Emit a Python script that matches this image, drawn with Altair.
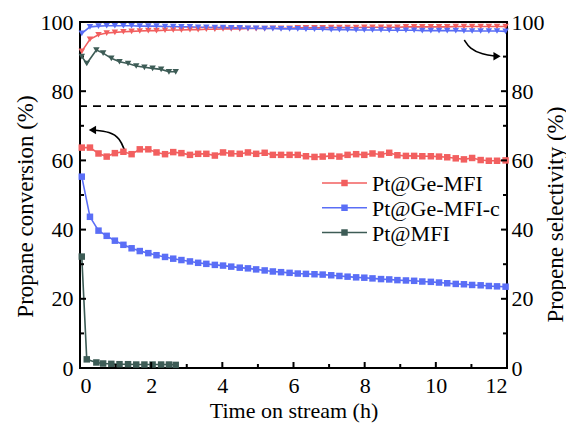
import altair as alt
import pandas as pd

FONT = "Liberation Serif"

# ---------------- data ----------------
series_names = ["Pt@Ge-MFI", "Pt@Ge-MFI-c", "Pt@MFI"]
series_colors = ["#f25f5f", "#5a6ef6", "#3d5c56"]

time_h = [0.05, 0.28, 0.52, 0.75, 0.98, 1.22, 1.45, 1.68, 1.92, 2.15,
          2.39, 2.62, 2.85, 3.09, 3.32, 3.55, 3.79, 4.02, 4.25, 4.49,
          4.72, 4.95, 5.19, 5.42, 5.65, 5.89, 6.12, 6.35, 6.59, 6.82,
          7.06, 7.29, 7.52, 7.76, 7.99, 8.22, 8.46, 8.69, 8.92, 9.16,
          9.39, 9.62, 9.86, 10.09, 10.32, 10.56, 10.79, 11.02, 11.26, 11.49,
          11.72, 11.96]

time_mfi = [0.05, 0.19, 0.46, 0.65, 0.88, 1.11, 1.35, 1.58, 1.81, 2.04,
            2.28, 2.50, 2.69]

# propane conversion (%)
conv_ge = [63.7, 63.7, 62.0, 61.1, 62.1, 62.5, 61.8, 63.2, 63.2, 62.3,
           61.8, 62.4, 62.1, 61.6, 61.9, 61.9, 61.4, 62.3, 62.0, 61.9,
           62.3, 61.9, 62.2, 61.6, 61.6, 61.6, 61.6, 61.2, 61.0, 61.1,
           61.3, 61.1, 61.6, 61.8, 61.6, 62.0, 61.7, 62.2, 61.5, 61.3,
           61.3, 61.2, 61.2, 61.1, 60.9, 60.6, 60.3, 60.7, 60.1, 59.9,
           59.9, 60.0]
conv_gec = [55.3, 43.7, 39.7, 38.2, 36.8, 35.6, 34.6, 33.8, 33.2, 32.6,
            32.1, 31.6, 31.2, 30.8, 30.4, 30.1, 29.8, 29.6, 29.3, 29.0,
            28.8, 28.5, 28.2, 27.9, 27.7, 27.5, 27.3, 27.2, 27.1, 27.0,
            26.8, 26.6, 26.4, 26.2, 26.1, 25.9, 25.7, 25.6, 25.4, 25.3,
            25.2, 25.0, 24.9, 24.7, 24.5, 24.3, 24.2, 24.0, 23.9, 23.7,
            23.6, 23.5]
conv_mfi = [32.2, 2.5, 1.6, 1.3, 1.2, 1.1, 1.1, 1.0, 1.0, 1.0, 1.0, 1.0, 0.9]

# propene selectivity (%)
sel_ge = [91.5, 95.0, 96.3, 96.8, 97.0, 97.2, 97.3, 97.4, 97.5, 97.5,
          97.6, 97.7, 97.7, 97.8, 97.8, 97.9, 97.9, 98.0, 98.0, 98.0,
          98.1, 98.1, 98.1, 98.2, 98.2, 98.2, 98.3, 98.3, 98.3, 98.3,
          98.4, 98.4, 98.4, 98.4, 98.5, 98.5, 98.5, 98.5, 98.5, 98.6,
          98.6, 98.6, 98.6, 98.6, 98.6, 98.7, 98.7, 98.7, 98.7, 98.7,
          98.7, 98.7]
sel_gec = [96.7, 98.6, 98.8, 98.9, 98.9, 98.9, 98.9, 98.8, 98.8, 98.8,
           98.7, 98.7, 98.6, 98.6, 98.5, 98.5, 98.4, 98.4, 98.3, 98.3,
           98.2, 98.2, 98.1, 98.1, 98.0, 98.0, 98.0, 97.9, 97.9, 97.9,
           97.8, 97.8, 97.8, 97.7, 97.7, 97.7, 97.7, 97.6, 97.6, 97.6,
           97.6, 97.5, 97.5, 97.5, 97.5, 97.5, 97.4, 97.4, 97.4, 97.4,
           97.4, 97.3]
sel_mfi = [90.0, 88.0, 91.9, 91.0, 89.5, 88.5, 88.0, 87.3, 86.9, 86.6,
           86.3, 85.6, 85.6]

dash_level = 75.7

x_major = [0, 2, 4, 6, 8, 10, 12]
x_minor = [1, 3, 5, 7, 9, 11]
y_major = [0, 20, 40, 60, 80, 100]
y_minor = [10, 30, 50, 70, 90]

# annotation arrows (time, value)
arrow_left_t = [1.25, 1.12, 0.85, 0.35]
arrow_left_v = [63.0, 66.3, 68.3, 68.8]
arrow_right_t = [10.8, 10.95, 11.3, 11.72]
arrow_right_v = [94.8, 92.3, 90.6, 90.1]

# ---------------- tables ----------------
def long(t, v, name):
    return pd.DataFrame({"t": t, "v": v, "series": name})

conv_df = pd.concat([long(time_h, conv_ge, series_names[0]),
                     long(time_h, conv_gec, series_names[1]),
                     long(time_mfi, conv_mfi, series_names[2])], ignore_index=True)
sel_df = pd.concat([long(time_h, sel_ge, series_names[0]),
                    long(time_h, sel_gec, series_names[1]),
                    long(time_mfi, sel_mfi, series_names[2])], ignore_index=True)

arrows_df = pd.concat([
    pd.DataFrame({"t": arrow_left_t, "v": arrow_left_v, "a": "L", "o": range(4)}),
    pd.DataFrame({"t": arrow_right_t, "v": arrow_right_v, "a": "R", "o": range(4)}),
], ignore_index=True)
heads_df = pd.DataFrame({"t": [arrow_left_t[-1], arrow_right_t[-1]],
                         "v": [arrow_left_v[-1], arrow_right_v[-1]],
                         "shape": ["triangle-left", "triangle-right"]})

xmaj_df = pd.DataFrame({"t": x_major})
xmin_df = pd.DataFrame({"t": x_minor})
ymaj_df = pd.DataFrame({"v": y_major})
ymin_df = pd.DataFrame({"v": y_minor})
legend_df = pd.DataFrame({"series": series_names})

# ---------------- scales / axes ----------------
W, H = 427, 346
cscale = alt.Scale(domain=series_names, range=series_colors)
xscale = alt.Scale(domain=[0, 12], nice=False)
yl_scale = alt.Scale(domain=[0, 100], nice=False)
yr_scale = alt.Scale(domain=[0, 100], nice=False)

x_axis = alt.Axis(title="Time on stream (h)", values=x_major, ticks=False, domain=False,
                  grid=False, labelPadding=7, titlePadding=4, format="d",
                  titleFontSize=22)
yl_axis = alt.Axis(title="Propane conversion (%)", values=y_major, ticks=False,
                   domain=False, grid=False, labelPadding=7, titlePadding=3,
                   orient="left", titleFontSize=23, titleY=184)
yr_axis = alt.Axis(title="Propene selectivity (%)", values=y_major, ticks=False,
                   domain=False, grid=False, labelPadding=4, titlePadding=0,
                   orient="right", titleAngle=270, titleBaseline="top",
                   titleFontSize=23, titleY=192)

X = lambda: alt.X("t:Q", scale=xscale, axis=x_axis)
YL = lambda: alt.Y("v:Q", scale=yl_scale, axis=yl_axis)
YR = lambda: alt.Y("v:Q", scale=yr_scale, axis=yr_axis)
COL = lambda: alt.Color("series:N", scale=cscale, legend=None)

# ---------------- left (conversion) layers ----------------
conv_line = alt.Chart(conv_df).mark_line(strokeWidth=1.6).encode(
    x=X(), y=YL(), color=COL(), detail="series:N")
conv_pts = alt.Chart(conv_df).mark_point(shape="square", filled=True, size=42,
                                         opacity=1).encode(x=X(), y=YL(), color=COL())

dash = alt.Chart(pd.DataFrame({"v": [dash_level]})).mark_rule(
    color="black", strokeWidth=1.6, strokeDash=[8, 6]).encode(y=YL())

arrow_lines = alt.Chart(arrows_df).mark_line(color="black", strokeWidth=1.6,
                                             interpolate="basis").encode(
    x=X(), y=YL(), detail="a:N", order="o:Q")
arrow_heads = alt.Chart(heads_df).mark_point(filled=True, color="black", size=70,
                                             opacity=1).encode(
    x=X(), y=YL(), shape=alt.Shape("shape:N", scale=None, legend=None))

xtick_maj = alt.Chart(xmaj_df).mark_rule(color="black", strokeWidth=2).encode(
    x=X(), y=alt.value(H), y2=alt.value(H - 6))
xtick_min = alt.Chart(xmin_df).mark_rule(color="black", strokeWidth=2).encode(
    x=X(), y=alt.value(H), y2=alt.value(H - 4))
yltick_maj = alt.Chart(ymaj_df).mark_rule(color="black", strokeWidth=2).encode(
    y=YL(), x=alt.value(0), x2=alt.value(6))
yltick_min = alt.Chart(ymin_df).mark_rule(color="black", strokeWidth=2).encode(
    y=YL(), x=alt.value(0), x2=alt.value(4))

left = alt.layer(dash, arrow_lines, arrow_heads, conv_line, conv_pts,
                 xtick_maj, xtick_min, yltick_maj, yltick_min)

# ---------------- right (selectivity) layers ----------------
sel_line = alt.Chart(sel_df).mark_line(strokeWidth=1.6).encode(
    x=X(), y=YR(), color=COL(), detail="series:N")
sel_pts = alt.Chart(sel_df).mark_point(shape="triangle-down", filled=True, size=42,
                                       opacity=1).encode(x=X(), y=YR(), color=COL())
yrtick_maj = alt.Chart(ymaj_df).mark_rule(color="black", strokeWidth=2).encode(
    y=YR(), x=alt.value(W), x2=alt.value(W - 6))
yrtick_min = alt.Chart(ymin_df).mark_rule(color="black", strokeWidth=2).encode(
    y=YR(), x=alt.value(W), x2=alt.value(W - 4))

right = alt.layer(sel_line, sel_pts, yrtick_maj, yrtick_min)

# ---------------- legend (drawn with marks) ----------------
LEG_Y = lambda: alt.Y("series:N", axis=None,
                      scale=alt.Scale(type="point", domain=series_names,
                                      range=[161, 210.5], padding=0))
leg_line = alt.Chart(legend_df).mark_rule(strokeWidth=1.6).encode(
    y=LEG_Y(), x=alt.value(242), x2=alt.value(287), color=COL())
leg_pts = alt.Chart(legend_df).mark_point(shape="square", filled=True, size=42,
                                          opacity=1).encode(
    y=LEG_Y(), x=alt.value(264.5), color=COL())
leg_text = alt.Chart(legend_df).mark_text(align="left", baseline="middle", font=FONT,
                                          fontSize=22, color="black", dy=1).encode(
    y=LEG_Y(), x=alt.value(292), text="series:N")
legend_layer = alt.layer(leg_line, leg_pts, leg_text)

chart = alt.layer(left, right, legend_layer).resolve_scale(y="independent").properties(
    width=W, height=H,
    autosize=alt.AutoSizeParams(type="none"),
    padding={"left": 72, "top": 14, "right": 59, "bottom": 56},
).configure(background="white").configure_view(
    stroke="black", strokeWidth=2
).configure_axis(
    labelFont=FONT, titleFont=FONT, labelFontSize=22,
    labelColor="black", titleColor="black", titleFontWeight="normal",
)

chart.save("out.html", embed_options={"renderer": "svg", "actions": False})
